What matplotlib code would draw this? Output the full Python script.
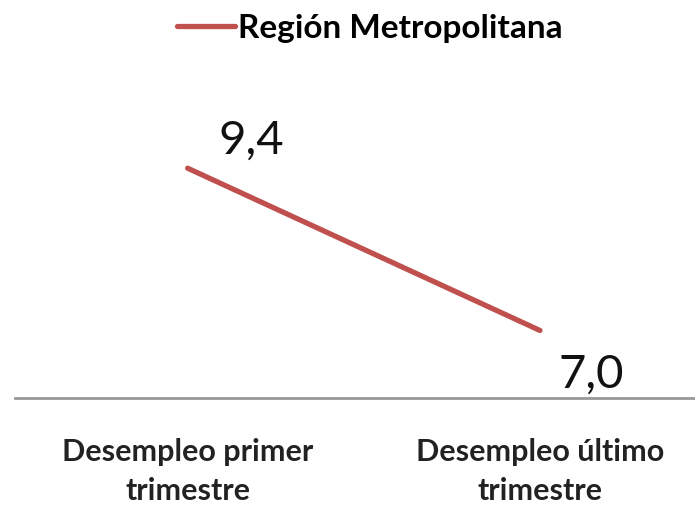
import matplotlib
matplotlib.use("Agg")
import matplotlib.pyplot as plt

plt.rcParams['font.family'] = ['Lato', 'DejaVu Sans']

categories = ["Desempleo primer\ntrimestre", "Desempleo último\ntrimestre"]
values = [9.4, 7.0]
labels = ["9,4", "7,0"]
series_name = "Región Metropolitana"

fig = plt.figure(figsize=(6.95, 5.13), dpi=100)
ax = fig.add_axes([15 / 695, 0.224, 680 / 695, 0.659])

xs = range(len(values))
ax.plot(xs, values, color='#C0504D', linewidth=3.8, solid_capstyle='round', label=series_name)

# data labels
offsets = [(46, 20), (37, -32)]
for x, v, lab, off in zip(xs, values, labels, offsets):
    ax.annotate(lab, (x, v), xytext=off, textcoords='offset points',
                ha='center', va='center', fontsize=34, color='#111111')

ax.set_xlim(-0.49, 1.44)
ax.set_ylim(6, 11)
ax.set_xticks(list(xs))
ax.set_xticklabels(categories, fontsize=22, fontweight='bold', color='#222222',
                   linespacing=1.45)
ax.tick_params(axis='x', length=0, pad=29)
ax.set_yticks([])
for s in ['top', 'right', 'left']:
    ax.spines[s].set_visible(False)
ax.spines['bottom'].set_color('#999999')
ax.spines['bottom'].set_linewidth(2)

fig.legend(loc='upper center', bbox_to_anchor=(0.532, 1.032), frameon=False,
           handlelength=1.75, handletextpad=0.1,
           prop={'weight': 'bold', 'size': 24})

fig.savefig("out.png", dpi=100)
